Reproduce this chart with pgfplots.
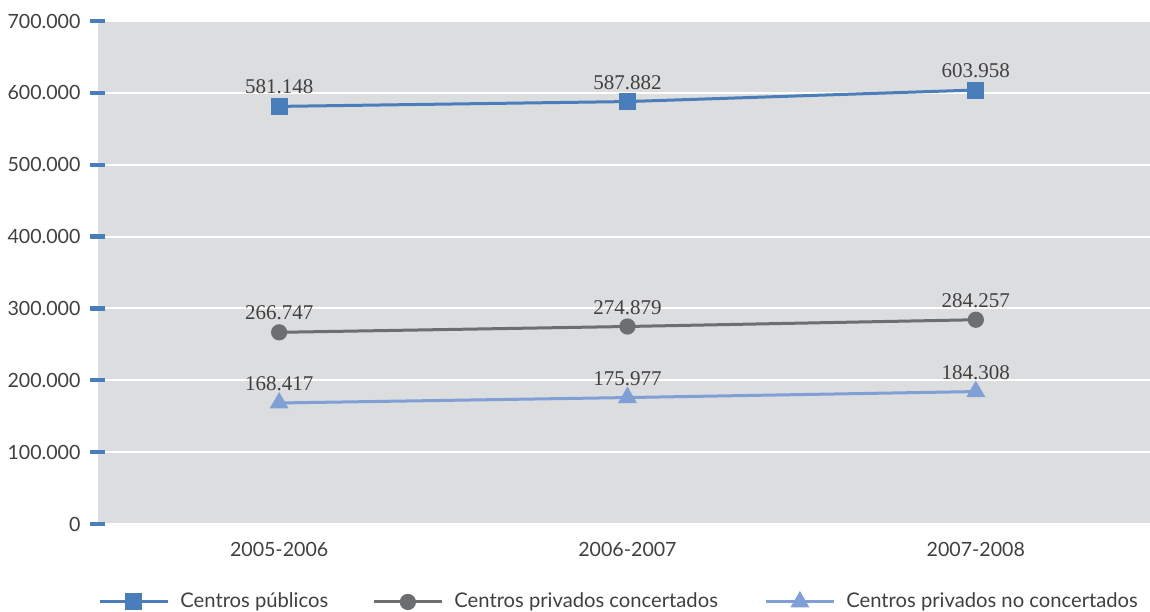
\documentclass[border=0pt]{standalone}
\usepackage{fontspec}
\setmainfont{Lato}
\newfontfamily\lblfont{Liberation Serif}
\usepackage{pgfplots}
\pgfplotsset{compat=1.18}
\definecolor{bgc}{HTML}{DCDDDF}
\definecolor{c1}{HTML}{4A7EBB}
\definecolor{c2}{HTML}{6D6E70}
\definecolor{c3}{HTML}{7F9FD5}
\definecolor{txt}{HTML}{404040}
\begin{document}
\begin{tikzpicture}
\begin{axis}[name=ax,
  width=526pt, height=251.5pt, scale only axis,
  xmin=-0.52, xmax=2.5, ymin=0, ymax=700000,
  axis background/.style={fill=bgc},
  axis line style={draw=none},
  ytick={0,100000,...,700000},
  yticklabels={0,100.000,200.000,300.000,400.000,500.000,600.000,700.000},
  ytick pos=left,
  xtick={0,1,2},
  xticklabels={2005-2006,2006-2007,2007-2008},
  x tick style={draw=none},
  y tick style={c1, line width=2.2pt},
  tick align=center,
  major tick length=7.5pt,
  ymajorgrids,
  grid style={white, line width=1pt},
  scaled y ticks=false,
  tick label style={font=\fontsize{9.8}{12}\selectfont, text=txt},
  yticklabel style={xshift=-1.5pt},
  xticklabel style={yshift=-2pt},
  point meta=explicit symbolic,
  nodes near coords,
  every node near coord/.append style={font=\lblfont\fontsize{10.5}{12}\selectfont, text=txt, yshift=2pt},
  legend columns=3,
  legend style={at={(axis description cs:0,-0.155)}, anchor=west, draw=none, fill=none, inner sep=0pt,
    font=\fontsize{10.1}{12}\selectfont, text=txt,
    nodes={inner sep=0pt},
    /tikz/every odd column/.append style={column sep=5.5pt},
    /tikz/every even column/.append style={column sep=0pt}},
  legend image code/.code={\draw[mark repeat=2,mark phase=2] plot coordinates {(0pt,0pt) (17pt,0pt) (34pt,0pt)};},
]
\addplot[c1, line width=1.5pt, mark=square*, mark size=3.5pt, mark options={fill=c1, draw=c1}]
  coordinates {(0,581148) [581.148] (1,587882) [587.882] (2,603958) [603.958]};
\addlegendentry{\makebox[96pt][l]{Centros públicos}}
\addplot[c2, line width=1.5pt, mark=*, mark size=3.3pt, mark options={fill=c2, draw=c2}]
  coordinates {(0,266747) [266.747] (1,274879) [274.879] (2,284257) [284.257]};
\addlegendentry{\makebox[155pt][l]{Centros privados concertados}}
\addplot[c3, line width=1.5pt, mark=triangle*, mark size=4pt, mark options={fill=c3, draw=c3}]
  coordinates {(0,168417) [168.417] (1,175977) [175.977] (2,184308) [184.308]};
\addlegendentry{Centros privados no concertados}
\end{axis}
\pgfresetboundingbox
\path[use as bounding box] ([xshift=-49pt,yshift=-43.5pt]ax.south west) rectangle ([yshift=10.5pt]ax.north east);
\end{tikzpicture}
\end{document}
